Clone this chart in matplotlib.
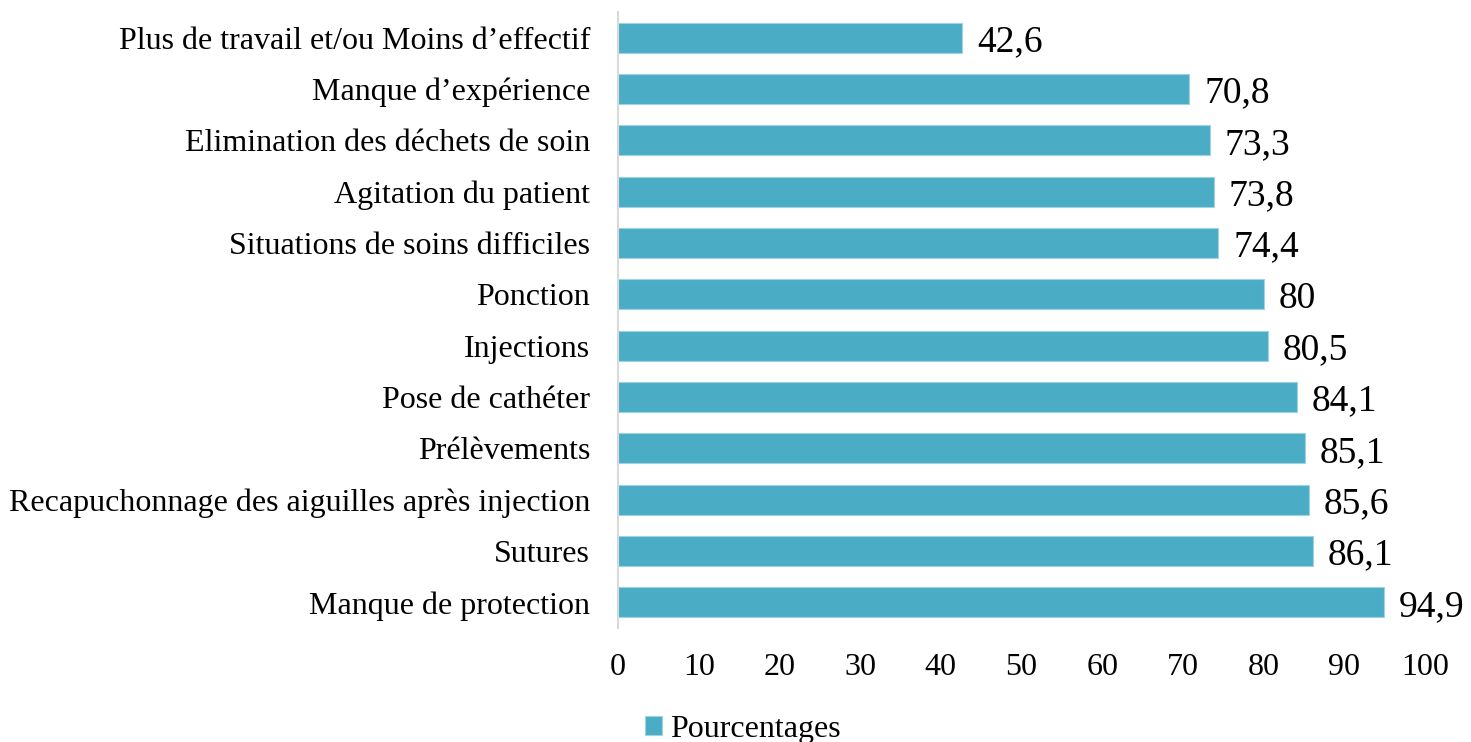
import matplotlib
matplotlib.use("Agg")
import matplotlib.pyplot as plt

categories = [
    "Plus de travail et/ou Moins d\u2019effectif",
    "Manque d\u2019exp\u00e9rience",
    "Elimination des d\u00e9chets de soin",
    "Agitation du patient",
    "Situations de soins difficiles",
    "Ponction",
    "Injections",
    "Pose de cath\u00e9ter",
    "Pr\u00e9l\u00e8vements",
    "Recapuchonnage des aiguilles apr\u00e8s injection",
    "Sutures",
    "Manque de protection",
]
values = [42.6, 70.8, 73.3, 73.8, 74.4, 80, 80.5, 84.1, 85.1, 85.6, 86.1, 94.9]
labels = ["42,6", "70,8", "73,3", "73,8", "74,4", "80", "80,5", "84,1", "85,1", "85,6", "86,1", "94,9"]
xticks = [0, 10, 20, 30, 40, 50, 60, 70, 80, 90, 100]
series_name = "Pourcentages"

plt.rcParams['font.family'] = ['Liberation Serif', 'DejaVu Serif']

fig = plt.figure(figsize=(14.71, 7.42), dpi=100)
ax = fig.add_axes([618/1471, 1-628/742, (1425-618)/1471, (628-12)/742])

color = "#4BACC6"
pos = list(range(len(categories)))
bars = ax.barh(pos, values, height=0.58, color=color, edgecolor="#9fd3e0", linewidth=0.8, label=series_name)
ax.set_ylim(len(categories)-0.5, -0.5)
ax.set_xlim(0, 100)
ax.set_yticks(pos)
ax.set_yticklabels(categories, fontsize=23)
ax.set_xticks(xticks)
ax.set_xticklabels([str(t) for t in xticks], fontsize=23)
for s in ["top", "right", "bottom"]:
    ax.spines[s].set_visible(False)
ax.spines["left"].set_color("#d9d9d9")
ax.spines["left"].set_linewidth(1.5)
ax.tick_params(axis="both", length=0)
ax.tick_params(axis="y", pad=20)
ax.tick_params(axis="x", pad=18)

for b, lab in zip(bars, labels):
    ax.annotate(lab, (b.get_width(), b.get_y() + b.get_height()/2),
                xytext=(11, -3), textcoords="offset points", va="center", ha="left", fontsize=27)

fig.legend(handles=[bars], labels=[series_name], loc="center", bbox_to_anchor=(0.505, 0.017),
           frameon=False, fontsize=23, handlelength=0.55, handleheight=0.55, handletextpad=0.25)

fig.savefig("out.png", dpi=100)
